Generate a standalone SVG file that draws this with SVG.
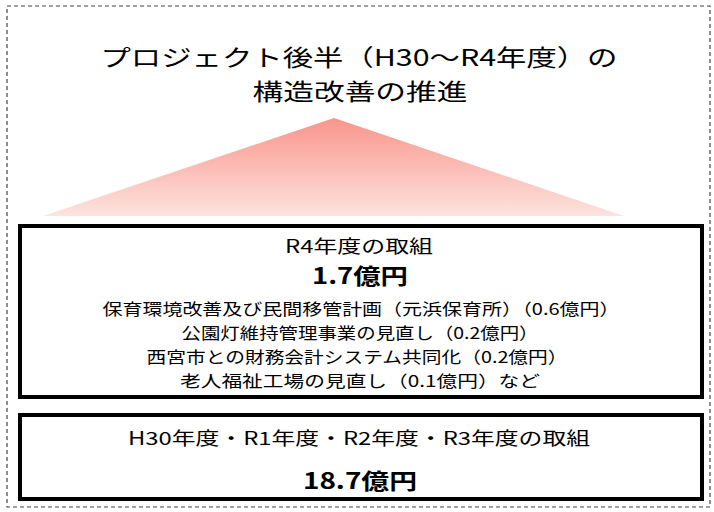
<svg xmlns="http://www.w3.org/2000/svg" width="714" height="512" viewBox="0 0 714 512">
<style>
  text { font-family: "Noto Sans CJK JP", "Noto Sans", sans-serif; fill: #000; text-anchor: middle; }
  .title { font-size: 23px; }
  .head { font-size: 18px; }
  .amount { font-size: 22px; font-weight: bold; }
  .item { font-size: 16.4px; }
  .box { fill: #fff; stroke: #000; stroke-width: 4; }
</style>
<defs>
  <linearGradient id="tri" x1="0" y1="0" x2="0" y2="1">
    <stop offset="0" stop-color="#f9958a"/>
    <stop offset="1" stop-color="#fde3df"/>
  </linearGradient>
</defs>
<rect x="0" y="0" width="714" height="512" fill="#fff"/>
<rect id="frame" x="7" y="6" width="703" height="501" fill="none" stroke="#444" stroke-width="1.2" stroke-dasharray="4,3"/>
<g id="title">
  <text class="title" x="359" y="66" textLength="517" lengthAdjust="spacingAndGlyphs">プロジェクト後半（H30～R4年度）の</text>
  <text class="title" x="360" y="100" textLength="215" lengthAdjust="spacingAndGlyphs">構造改善の推進</text>
</g>
<g id="pyramid">
  <polygon points="334,118 624,216 43,216" fill="url(#tri)"/>
</g>
<g id="r4">
  <rect class="box" x="20" y="226" width="682" height="171"/>
  <text class="head" x="359" y="253" textLength="148" lengthAdjust="spacingAndGlyphs">R4年度の取組</text>
  <text class="amount" x="360" y="284" textLength="96" lengthAdjust="spacingAndGlyphs">1.7億円</text>
  <text class="item" x="361" y="315" textLength="517" lengthAdjust="spacingAndGlyphs">保育環境改善及び民間移管計画（元浜保育所）（0.6億円）</text>
  <text class="item" x="360" y="339" textLength="357" lengthAdjust="spacingAndGlyphs">公園灯維持管理事業の見直し（0.2億円）</text>
  <text class="item" x="357" y="363" textLength="421" lengthAdjust="spacingAndGlyphs">西宮市との財務会計システム共同化（0.2億円）</text>
  <text class="item" x="360" y="387" textLength="360" lengthAdjust="spacingAndGlyphs">老人福祉工場の見直し（0.1億円）など</text>
</g>
<g id="h30r3">
  <rect class="box" x="20" y="415" width="682" height="84"/>
  <text class="head" x="359" y="445" textLength="462" lengthAdjust="spacingAndGlyphs">H30年度・R1年度・R2年度・R3年度の取組</text>
  <text class="amount" x="360" y="489" textLength="114" lengthAdjust="spacingAndGlyphs">18.7億円</text>
</g>
</svg>
